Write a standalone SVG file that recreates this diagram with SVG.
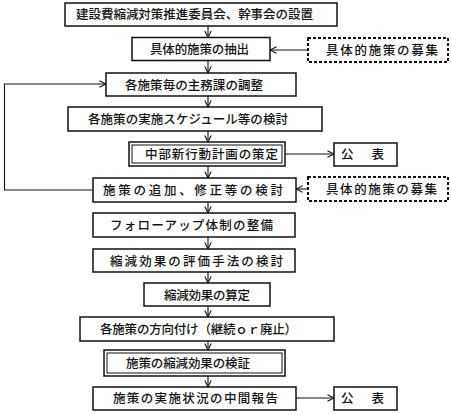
<svg xmlns="http://www.w3.org/2000/svg" width="451" height="414" viewBox="0 0 451 414">
<defs>
<marker id="ah" viewBox="0 0 8 8" refX="7.5" refY="4" markerWidth="8" markerHeight="8" markerUnits="userSpaceOnUse" orient="auto">
<path d="M1,0.8 L7.5,4 L1,7.2" fill="none" stroke="#111" stroke-width="1.1"/>
</marker>
</defs>
<style>
.b{fill:#fff;stroke:#111;stroke-width:1.5}
.d{fill:#fff;stroke:#111;stroke-width:2;stroke-dasharray:3 2}
.in{fill:none;stroke:#111;stroke-width:1}
.t{font-family:"Noto Sans CJK JP",sans-serif;font-size:12.5px;font-weight:500;fill:#111;text-anchor:middle}
.c{fill:none;stroke:#111;stroke-width:1.1}
</style>
<rect width="451" height="414" fill="#fff"/>
<g id="connectors">
<path class="c" d="M208,26 V37.5" marker-end="url(#ah)"/>
<path class="c" d="M308,50 H270" marker-end="url(#ah)"/>
<path class="c" d="M208,60.5 V73" marker-end="url(#ah)"/>
<path class="c" d="M208,96 V107" marker-end="url(#ah)"/>
<path class="c" d="M208,131 V142" marker-end="url(#ah)"/>
<path class="c" d="M285,154 H334" marker-end="url(#ah)"/>
<path class="c" d="M208,166 V178" marker-end="url(#ah)"/>
<path class="c" d="M308,189 H296" marker-end="url(#ah)"/>
<path class="c" d="M93,190 H4.5 V84 H106" marker-end="url(#ah)"/>
<path class="c" d="M208,202 V213" marker-end="url(#ah)"/>
<path class="c" d="M208,237 V249" marker-end="url(#ah)"/>
<path class="c" d="M208,272 V283" marker-end="url(#ah)"/>
<path class="c" d="M208,306 V317" marker-end="url(#ah)"/>
<path class="c" d="M208,341 V350" marker-end="url(#ah)"/>
<path class="c" d="M208,376 V387" marker-end="url(#ah)"/>
<path class="c" d="M296,398 H334" marker-end="url(#ah)"/>
</g>
<g id="n1"><rect class="b" x="65" y="3" width="272" height="23"/><text class="t" x="194.5" y="19" textLength="237" lengthAdjust="spacing">建設費縮減対策推進委員会、幹事会の設置</text></g>
<g id="n2"><rect class="b" x="132" y="37.5" width="138" height="23"/><text class="t" x="199.5" y="54" textLength="99" lengthAdjust="spacing">具体的施策の抽出</text></g>
<g id="n2b"><rect class="d" x="308" y="38" width="140" height="24"/><text class="t" x="382" y="55" textLength="112" lengthAdjust="spacing">具体的施策の募集</text></g>
<g id="n3"><rect class="b" x="106" y="73" width="190" height="23"/><text class="t" x="194" y="89.5" textLength="138" lengthAdjust="spacing">各施策毎の主務課の調整</text></g>
<g id="n4"><rect class="b" x="68" y="107" width="254" height="24"/><text class="t" x="188" y="124" textLength="200" lengthAdjust="spacing">各施策の実施スケジュール等の検討</text></g>
<g id="n5"><rect class="b" x="129" y="142" width="156" height="24" stroke-width="2"/><rect class="in" x="132" y="145" width="150" height="18"/><text class="t" x="211.5" y="159" textLength="133" lengthAdjust="spacing">中部新行動計画の策定</text></g>
<g id="n5b"><rect class="b" x="334" y="143" width="63" height="23"/><text class="t" x="362.5" y="159" textLength="43" lengthAdjust="spacing">公　表</text></g>
<g id="n6"><rect class="b" x="93" y="178" width="203" height="24"/><text class="t" x="193" y="195" textLength="180" lengthAdjust="spacing">施策の追加、修正等の検討</text></g>
<g id="n6b"><rect class="d" x="308" y="177" width="140" height="24"/><text class="t" x="381.5" y="194" textLength="111" lengthAdjust="spacing">具体的施策の募集</text></g>
<g id="n7"><rect class="b" x="93" y="213" width="202" height="24"/><text class="t" x="191.5" y="230" textLength="163" lengthAdjust="spacing">フォローアップ体制の整備</text></g>
<g id="n8"><rect class="b" x="93" y="249" width="202" height="23"/><text class="t" x="196.5" y="265.5" textLength="173" lengthAdjust="spacing">縮減効果の評価手法の検討</text></g>
<g id="n9"><rect class="b" x="144" y="283" width="126" height="23"/><text class="t" x="207" y="299.5" textLength="86" lengthAdjust="spacing">縮減効果の算定</text></g>
<g id="n10"><rect class="b" x="80" y="317" width="254" height="24"/><text class="t" x="198.5" y="334" textLength="197" lengthAdjust="spacing">各施策の方向付け（継続ｏｒ廃止）</text></g>
<g id="n11"><rect class="b" x="104" y="350" width="181" height="26" stroke-width="2"/><rect class="in" x="107" y="353" width="175" height="20" stroke="#555"/><text class="t" x="188" y="368" textLength="124" lengthAdjust="spacing">施策の縮減効果の検証</text></g>
<g id="n12"><rect class="b" x="93" y="387" width="203" height="23"/><text class="t" x="195.5" y="403" textLength="165" lengthAdjust="spacing">施策の実施状況の中間報告</text></g>
<g id="n12b"><rect class="b" x="334" y="387" width="63" height="23"/><text class="t" x="362.5" y="403" textLength="43" lengthAdjust="spacing">公　表</text></g>
</svg>
